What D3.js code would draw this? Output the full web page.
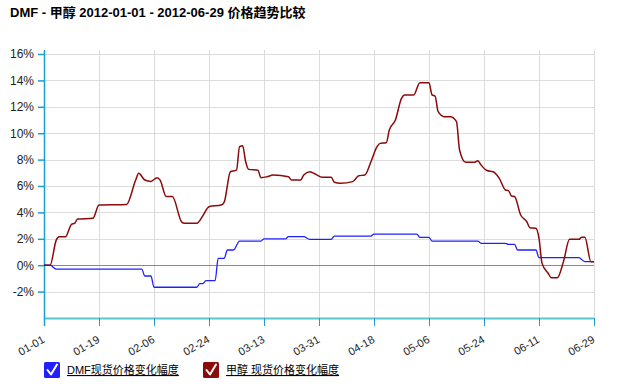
<!DOCTYPE html>
<html>
<head>
<meta charset="utf-8">
<script src="https://cdn.jsdelivr.net/npm/d3@7"></script>
<style>
  html, body { margin: 0; padding: 0; background: #fff; }
  svg { display: block; }
</style>
</head>
<body>
<svg id="chart" width="622" height="387"></svg>
<script>
// ---- data ----
const titleText = "DMF - 甲醇 2012-01-01 - 2012-06-29 价格趋势比较";
const seriesNames = ["DMF现货价格变化幅度", "甲醇 现货价格变化幅度"];
const xTickLabels = ["01-01","01-19","02-06","02-24","03-13","03-31","04-18","05-06","05-24","06-11","06-29"];
const yTickValues = [-2, 0, 2, 4, 6, 8, 10, 12, 14, 16];

const dmfDates = ["01-01","01-03","01-05","02-02","02-03","02-05","02-06","02-20","02-21","02-22","02-23","02-26","02-27","02-29","03-01","03-03","03-05","03-12","03-13","03-20","03-21","03-26","03-28","04-04","04-05","04-17","04-18","05-02","05-03","05-06","05-07","05-22","05-23","05-31","06-01","06-03","06-04","06-10","06-11","06-24","06-26","06-29"];
const dmfValues = [0, 0, -0.3, -0.3, -0.82, -0.82, -1.67, -1.67, -1.4, -1.4, -1.17, -1.17, 0.52, 0.52, 1.15, 1.15, 1.83, 1.83, 2.0, 2.0, 2.16, 2.16, 1.96, 1.96, 2.21, 2.21, 2.36, 2.36, 2.11, 2.11, 1.83, 1.83, 1.66, 1.66, 1.58, 1.58, 1.15, 1.15, 0.57, 0.57, 0.27, 0.27];

const methDates = ["01-01","01-03","01-05","01-06","01-08","01-10","01-11","01-12","01-17","01-19","01-28","01-31","02-01","02-03","02-05","02-07","02-08","02-10","02-12","02-15","02-16","02-20","02-22","02-24","02-28","02-29","03-02","03-04","03-05","03-06","03-07","03-08","03-11","03-12","03-14","03-16","03-21","03-22","03-25","03-26","03-28","03-30","04-01","04-04","04-05","04-07","04-11","04-13","04-15","04-17","04-19","04-20","04-22","04-23","04-25","04-27","04-28","05-01","05-03","05-06","05-07","05-08","05-09","05-11","05-13","05-15","05-16","05-18","05-21","05-22","05-23","05-25","05-27","05-29","05-31","06-01","06-02","06-03","06-05","06-07","06-08","06-10","06-11","06-12","06-14","06-15","06-17","06-19","06-21","06-24","06-25","06-26","06-28","06-29"];
const methValues = [0, 0, 1.9, 2.15, 2.15, 3.1, 3.17, 3.5, 3.55, 4.56, 4.6, 6.45, 6.96, 6.45, 6.35, 6.63, 6.45, 5.2, 5.2, 3.3, 3.17, 3.17, 3.75, 4.43, 4.56, 4.8, 7.08, 7.2, 8.98, 9.05, 7.84, 7.26, 7.2, 6.63, 6.7, 6.83, 6.7, 6.45, 6.45, 6.83, 7.08, 6.88, 6.66, 6.66, 6.28, 6.2, 6.33, 6.78, 6.83, 7.84, 8.98, 9.23, 9.28, 10.24, 11.0, 12.64, 12.9, 12.9, 13.83, 13.83, 12.9, 12.8, 11.63, 11.25, 11.25, 10.87, 8.73, 7.8, 7.8, 7.92, 7.6, 7.17, 7.08, 6.58, 5.7, 5.65, 5.24, 5.2, 3.8, 3.3, 2.84, 2.8, 2.04, 0.14, -0.61, -0.95, -0.95, 0.27, 1.96, 1.96, 2.11, 2.11, 0.27, 0.27];

const seriesColors = ["#2020ff", "#8b0a0a"];

// ---- layout ----
const svg = d3.select("#chart");
const pL = 44, pR = 594, pT = 54, pB = 318;
const parse = d3.timeParse("%Y-%m-%d");
const toDate = s => parse("2012-" + s);

const x = d3.scaleTime().domain([toDate("01-01"), toDate("06-29")]).range([pL, pR]);
const y = d3.scaleLinear().domain([-4, 16]).range([pB, pT]);

const font = "Arial, 'Liberation Sans', 'Noto Sans CJK SC', sans-serif";

// title
svg.append("text")
  .attr("x", 10).attr("y", 17)
  .attr("font-family", font)
  .attr("font-size", 13).attr("font-weight", "bold")
  .attr("fill", "#000")
  .text(titleText);

// grid
const g = svg.append("g");
g.selectAll(".hg").data(yTickValues).join("line")
  .attr("x1", pL).attr("x2", pR)
  .attr("y1", d => Math.round(y(d)) + 0.5).attr("y2", d => Math.round(y(d)) + 0.5)
  .attr("stroke", "#dcdcdc").attr("stroke-width", 1);
g.selectAll(".vg").data(xTickLabels.slice(1)).join("line")
  .attr("x1", d => Math.round(x(toDate(d))) + 0.5).attr("x2", d => Math.round(x(toDate(d))) + 0.5)
  .attr("y1", pT - 4).attr("y2", pB)
  .attr("stroke", "#dcdcdc").attr("stroke-width", 1);

// zero line
g.append("line")
  .attr("x1", pL).attr("x2", pR)
  .attr("y1", Math.round(y(0)) + 0.5).attr("y2", Math.round(y(0)) + 0.5)
  .attr("stroke", "#8a8a8a").attr("stroke-width", 1);

// x axis
const xAxis = d3.axisBottom(x)
  .tickValues(xTickLabels.map(toDate))
  .tickFormat(d3.timeFormat("%m-%d"))
  .tickSize(8).tickSizeOuter(0);
const gx = svg.append("g").attr("transform", `translate(0,${pB})`).call(xAxis);
gx.select(".domain").attr("stroke", "#5cc6cc").attr("stroke-width", 2);
gx.selectAll(".tick line").attr("stroke", "#1a9fd0");
gx.selectAll(".tick text")
  .attr("font-family", font).attr("font-size", 11).attr("fill", "#222")
  .attr("text-anchor", "end")
  .attr("transform", "translate(-3,17) rotate(-30)")
  .attr("dy", "0.35em").attr("y", 4).attr("x", 0);

// y axis
const yAxis = d3.axisLeft(y)
  .tickValues(yTickValues)
  .tickFormat(d => d + "%")
  .tickSize(6).tickSizeOuter(0);
const gy = svg.append("g").attr("transform", `translate(${pL},0)`).call(yAxis);
gy.select(".domain").remove();
gy.append("line").attr("x1", 0.5).attr("x2", 0.5).attr("y1", pT - 4).attr("y2", pB + 8)
  .attr("stroke", "#1a9fd0").attr("stroke-width", 1.5);
gy.selectAll(".tick line").attr("stroke", "#1a9fd0").attr("stroke-width", 1.5);
gy.selectAll(".tick text")
  .attr("font-family", font).attr("font-size", 12).attr("fill", "#222")
  .attr("x", -10);

// lines
const line = d3.line()
  .x(d => x(d.date)).y(d => y(d.value))
  .curve(d3.curveMonotoneX);
const dmf = dmfDates.map((d, i) => ({date: toDate(d), value: dmfValues[i]}));
const meth = methDates.map((d, i) => ({date: toDate(d), value: methValues[i]}));

svg.append("path").datum(dmf).attr("d", line)
  .attr("fill", "none").attr("stroke", seriesColors[0]).attr("stroke-width", 1.3);
svg.append("path").datum(meth).attr("d", line)
  .attr("fill", "none").attr("stroke", seriesColors[1]).attr("stroke-width", 1.5);

// legend
const legendX = [44, 203];
const lg = svg.selectAll(".leg").data(seriesNames).join("g")
  .attr("transform", (d, i) => `translate(${legendX[i]},362)`);
lg.append("rect").attr("width", 16).attr("height", 16).attr("rx", 1.5)
  .attr("fill", (d, i) => seriesColors[i]);
lg.append("path").attr("d", "M3.5,8 L7,12.5 L13,2.5")
  .attr("fill", "none").attr("stroke", "#fff").attr("stroke-width", 2)
  .attr("stroke-linecap", "round").attr("stroke-linejoin", "round");
lg.append("text").attr("x", 23).attr("y", 12)
  .attr("font-family", font).attr("font-size", 11).attr("fill", "#000")
  .attr("text-decoration", "underline")
  .text(d => d);
</script>
</body>
</html>
